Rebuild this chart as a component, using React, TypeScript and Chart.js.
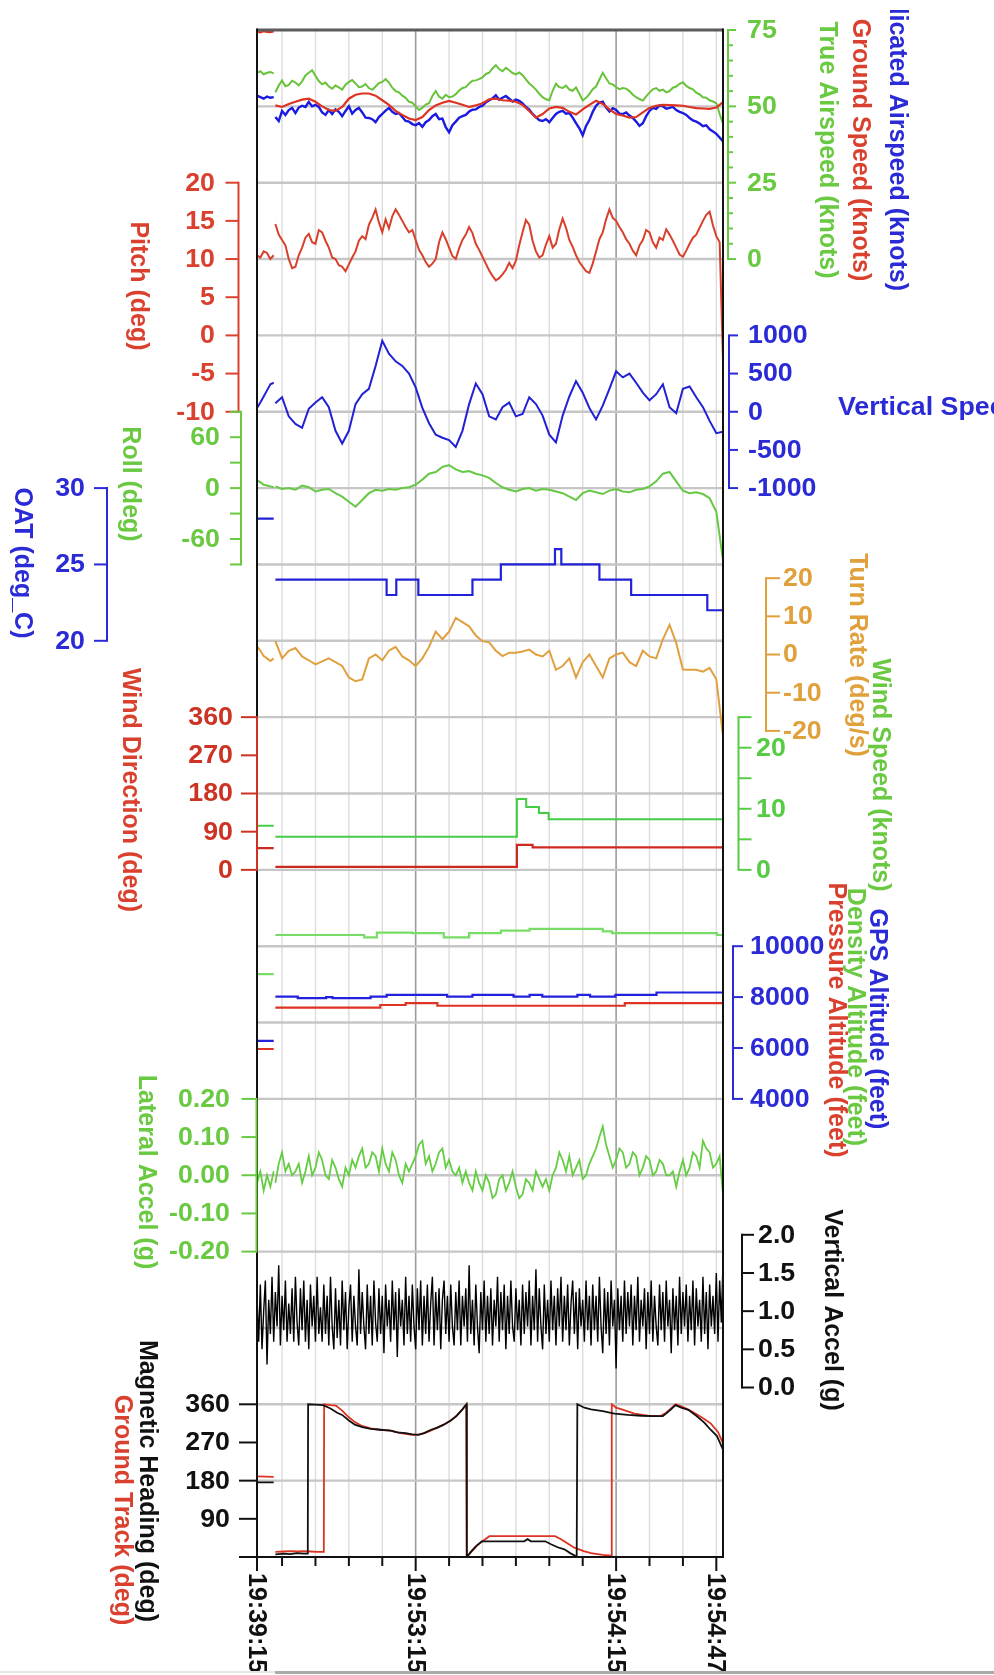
import React, { useEffect, useRef } from 'react';
import { Chart, registerables } from 'chart.js';
Chart.register(...registerables);

// ---------------- DATA ----------------
// x is a sample index (seconds); 0..5 = early 19:39:15 samples, 5.5.. = main segment
const earlyX = [0, 1, 2, 3, 4, 5];
const mainStart = 5.5;

const xTickValues = [0, 7.5, 17.5, 27.5, 37.5, 47.5, 57.5, 67.5, 77.5, 87.5, 97.5, 107.5, 117.5, 127.5, 137.5];
const xTickLabels = ['19:39:15', '', '', '', '', '19:53:15', '', '', '', '', '', '19:54:15', '', '', '19:54:47'];
const xMajorGrid = [47.5, 107.5];

// 1 s resolution series
const tasEarly = [61, 61.5, 60.5, 61, 61.2, 60.8];
const tas = [54.6, 56.8, 58.5, 56.6, 57, 58.4, 57.8, 56.9, 58.2, 60.1, 61, 61.8, 60, 58.3, 57.2, 57.8, 56.5, 55.8, 56.8, 56.2,
  55.5, 57.1, 58, 58.6, 57.5, 56.3, 56.5, 57.3, 56, 55.4, 56.5, 57.6, 58, 58.9, 57.8, 56.1, 55, 54.6, 53.5, 52.8,
  51.5, 51.2, 50, 48.8, 49.5, 50.6, 51, 53.4, 55, 53.2, 52.5, 53.8, 53, 53.2, 54, 55.2, 56, 56.3, 57.5, 58.4,
  58.5, 58.9, 59.5, 60.6, 61, 62.4, 63.5, 62.2, 61.5, 62.6, 61.8, 60.9, 60.5, 61.1, 60.2, 58.8, 57.5, 56.6, 55.5, 54.1,
  53, 52.3, 52, 55.1, 57.4, 56.3, 56, 56.8, 55.5, 55.1, 56.2, 54.1, 51.9, 52.8, 54, 55.6, 56.5, 58.8, 61, 59.2,
  57.5, 57.2, 56.3, 55.6, 56, 55.8, 55, 53.8, 53, 52.4, 51.9, 53.3, 54.5, 55.6, 56, 55.1, 55.5, 54.6, 55, 56.1,
  56.5, 57.4, 57.9, 56.7, 56, 55.6, 54.5, 53.9, 53, 52.8, 52, 51.6, 51, 47.5, 44.3];
const iasEarly = [53.5, 53, 52.5, 53.2, 52.8, 53];
const ias = [46.5, 45.2, 48.5, 47.2, 48.8, 49.5, 47.8, 49.6, 50.2, 49.8, 51.5, 50, 50.5, 49.8, 48, 47.2, 48.8, 47.5, 49, 48.2,
  46.8, 48.5, 50, 47.6, 48.8, 49.5, 48, 46.3, 46.2, 45.8, 44.8, 46.5, 47.5, 48.6, 49.5, 48.2, 47.5, 47.8, 46.5, 45.2,
  45, 44.2, 43.8, 44.5, 43.3, 44.8, 45.5, 46.8, 47.5, 45.8, 46, 43.2, 41.5, 43.8, 45, 46.3, 46.8, 47.2, 48.3, 48.9,
  49, 49.8, 50.2, 51.3, 52, 52.6, 53.6, 52.2, 52.8, 53.4, 52.5, 51.6, 52.2, 51.8, 51, 49.8, 48.9, 47.5, 46.5, 45.5,
  45.2, 45.8, 44.8, 46.2, 47.5, 48.2, 48.5, 47.6, 47.8, 46.3, 44.5, 42.8, 40.5, 43.6, 45.5, 48.2, 50.2, 51.2, 51.5, 49.6,
  48.3, 49.4, 48.8, 47.6, 47.5, 48, 47, 46.2, 45, 43.6, 44.5, 46.8, 48.5, 49.5, 49.2, 50.3, 50, 49.2, 49.5, 49.8,
  48.8, 48.2, 47.8, 47.2, 46.2, 45.4, 45, 44.4, 43.5, 43.8, 42.5, 41.8, 41, 39.8, 38.5];
const pitchEarly = [10.5, 10.2, 11, 10.8, 10, 10.5];
const pitch = [14.6, 13.2, 12.5, 11.8, 10, 8.8, 9, 10.5, 11.5, 12.8, 13.3, 12.2, 12, 13.8, 13.5, 12.4, 11.5, 10.2, 10, 9.2,
  9, 8.4, 9.3, 10.2, 11, 12.4, 13, 12.6, 14.5, 15.4, 16.5, 14.8, 13.5, 15.2, 14, 15.6, 16.5, 15.8, 15, 14.2,
  13.5, 13.8, 12.5, 11.2, 10.5, 9.6, 9, 9.4, 10, 12.2, 13.5, 12.6, 11.5, 10.4, 10, 11.4, 12.5, 13.2, 14.2, 13.4,
  12, 11.2, 10.3, 9.4, 8.5, 7.8, 7.2, 7.5, 8, 8.6, 9.5, 8.8, 9.8, 11.8, 13.5, 15.1, 14.5, 12.4, 11, 10.2,
  10.5, 11.9, 13, 11.5, 12, 13.9, 15.3, 14.1, 12.5, 11.6, 10.5, 9.6, 9, 8.4, 8.2, 9.4, 11, 12.6, 13.5, 15.2,
  16.5, 15.4, 15, 14.2, 13.5, 12.6, 12, 11.1, 10.5, 11.8, 12.5, 13.8, 13.5, 12.2, 11.5, 12.8, 12.5, 13.9, 13.2, 12.4,
  11.5, 10.6, 10.3, 11.1, 12, 12.8, 13.2, 14.1, 15, 15.8, 16.2, 14.4, 13, 12.2, -3.3];
const latEarly = [-0.02, 0.01, -0.04, 0, -0.03, 0.01];
const lat = [-0.02, 0.03, 0.06, 0.01, 0.03, 0.0, 0.01, 0.03, -0.02, 0.01, 0.05, 0.0, 0.02, 0.06, 0.04, 0.0, -0.01, 0.04, 0.02, -0.01,
  -0.03, 0.02, 0, 0.04, 0.02, 0.05, 0.07, 0.02, 0.03, 0.06, 0.05, 0.01, 0.07, 0.03, 0.01, 0.06, 0.04, 0.0, -0.02, 0.03,
  0.01, 0.03, 0.05, 0.08, 0.09, 0.03, 0.05, 0.01, 0.03, 0.06, 0.07, 0.02, 0.04, 0.01, 0, 0.02, -0.02, 0.01, -0.02, -0.04,
  0.01, -0.02, -0.04, 0.0, -0.02, -0.06, -0.05, -0.01, 0, -0.04, -0.02, 0.01, -0.03, -0.06, -0.05, -0.01, -0.02, -0.04, 0.01, -0.01,
  -0.03, -0.01, -0.04, 0.0, 0.02, 0.06, 0.04, 0.01, 0.05, 0.0, 0.02, 0.04, -0.01, 0.0, 0.03, 0.05, 0.07, 0.1, 0.128, 0.08,
  0.05, 0.02, 0.04, 0.07, 0.06, 0.02, 0.03, 0.06, 0.05, 0.0, 0.02, 0.05, 0.04, 0.0, 0.01, 0.04, 0.03, 0.0, 0, 0.01,
  -0.03, 0.01, 0.04, 0.0, 0.02, 0.06, 0.05, 0.02, 0.09, 0.07, 0.06, 0.02, 0.03, 0.05, -0.05];

// 2 s resolution series
const gsEarly = [74.5, 74.2, 74.6, 74.4, 74.3, 74.5];
const gs = [50.3, 49.8, 50.8, 51.5, 52.2, 52.5, 51.5, 50, 48.8, 48.5, 49.8, 52.5, 53.8, 54.2, 54.2, 53.5, 52, 50.5, 48.5, 47.2,
  46, 45.5, 46.5, 48.8, 50.3, 51.2, 51.8, 51.2, 50.5, 49.8, 50.3, 51, 52.3, 52.5, 52, 51.9, 51.5, 50.5, 48.5, 46.3,
  47.5, 49.3, 49.8, 49.5, 48.2, 47.3, 49, 50.5, 51.8, 50.8, 49, 47.5, 47, 46.3, 46.5, 48, 49.5, 50.2, 50.5, 50.4,
  50.3, 50.2, 49.8, 49.4, 49.3, 49.2, 49.6, 51.4];
const vsEarly = [50, 120, 200, 280, 360, 380];
const vs = [110, 190, -60, -160, -210, 40, 120, 190, 60, -250, -416, -250, 100, 230, 300, 600, 930, 760, 660, 600,
  500, 320, 50, -150, -300, -340, -370, -460, -250, 100, 370, 230, -60, -100, 60, 120, -60, -30, 190, 100,
  -50, -300, -400, -50, 200, 400, 250, 50, -100, 80, 300, 530, 450, 500, 380, 250, 150, 230, 360, 60,
  -20, 300, 330, 190, 60, -120, -280, -260];
const rollEarly = [9, 7, 4, 3, 2, 1];
const roll = [2, -1, 0, -2, 3, 1, -4, -2, -1, -6, -10, -16, -22, -14, -6, -2, -3, -1, -2, 0,
  1, 4, 10, 17, 19, 25, 27, 22, 19, 20, 17, 15, 12, 6, 1, -2, -4, -1, 0, -3,
  -1, -2, -4, -6, -10, -14, -6, -3, -5, -7, -3, -1, -4, -5, -2, -1, 2, 8, 17, 19,
  8, -3, -6, -5, -7, -12, -28, -85];
const turnEarly = [2.2, 1, -0.4, -1, -1.7, -1];
const turn = [3.5, -1, 1, 1.7, -0.5, -1.5, -2.6, -1.8, -1, -2, -3, -6, -7, -6.5, -1, 0, -1.5, 1, 2, -0.5,
  -1.5, -3, -1, 2, 6, 4, 6, 9.6, 8.5, 7.4, 5, 3.5, 3.2, 1, -0.4, 0.5, 0.5, 0.8, 1.3, 0,
  -0.5, 1, -4, -3, -1, -6, -2, 0, -3, -6, -1, 0, 0.5, -2, -3, 1, -0.5, -1, 4, 7.8,
  3, -3.9, -4, -4, -4.5, -3.5, -6.5, -21.3];

// vertical accel: 0.5 s samples from x = 0
const vaccStep = 0.5;
const vacc = [
  1.2, 0.6, 1.35, 0.5, 1.0, 1.4, 0.3, 1.15, 0.7, 1.45, 0.6, 1.25, 0.8, 1.6, 0.55, 1.2, 0.75, 1.4, 0.6, 1.1,
  0.7, 1.3, 0.6, 1.45, 0.85, 0.55, 1.3, 0.75, 1.4, 0.6, 1.15, 0.5, 1.35, 0.8, 1.2, 0.6, 1.45, 0.7, 1.05, 0.6,
  1.35, 0.7, 1.2, 0.55, 1.45, 0.8, 0.5, 1.3, 0.65, 1.15, 0.55, 1.4, 0.75, 1.25, 0.5, 1.05, 1.35, 0.6, 1.2, 0.8,
  0.55, 1.55, 0.7, 1.25, 0.8, 0.5, 1.35, 0.7, 1.2, 0.55, 1.4, 0.85, 0.6, 1.3, 0.7, 1.2, 0.45, 1.35, 0.8, 1.15,
  0.6, 1.4, 0.75, 1.25, 0.4, 1.3, 0.8, 1.15, 0.55, 1.45, 0.7, 1.2, 0.6, 1.35, 0.8, 0.5, 1.3, 0.75, 1.4, 0.55,
  1.2, 0.7, 1.35, 0.6, 1.1, 1.45, 0.55, 1.25, 0.75, 1.3, 0.5, 1.15, 1.4, 0.7, 1.2, 0.6, 1.35, 0.8, 0.55, 1.25,
  0.75, 1.4, 0.55, 1.2, 0.8, 1.3, 0.6, 1.6, 0.7, 1.15, 0.55, 1.35, 0.8, 0.45, 1.25, 0.75, 1.4, 0.6, 1.2, 0.7,
  1.3, 0.55, 1.15, 0.8, 1.45, 0.6, 1.25, 0.75, 1.35, 0.5, 1.2, 0.7, 1.4, 0.8, 0.6, 1.3, 0.75, 1.15, 0.55, 1.35,
  0.7, 1.25, 0.8, 1.4, 0.55, 1.2, 0.75, 1.55, 0.6, 1.3, 0.8, 0.5, 1.35, 0.7, 1.15, 0.6, 1.4, 0.75, 1.2, 0.55,
  1.3, 0.8, 1.45, 0.6, 1.2, 0.75, 1.35, 0.55, 1.1, 1.4, 0.7, 1.25, 0.5, 1.3, 0.8, 1.15, 0.6, 1.4, 0.75, 1.2,
  0.55, 1.35, 0.75, 1.2, 0.6, 1.45, 0.8, 0.45, 1.3, 0.7, 1.25, 0.55, 1.4, 0.8, 1.15, 0.25, 1.3, 0.75, 1.2, 0.6,
  1.4, 0.7, 1.25, 0.8, 1.35, 0.55, 1.2, 0.75, 1.45, 0.6, 1.15, 0.8, 1.3, 0.5, 1.25, 0.7, 1.4, 0.6, 1.2, 0.8,
  0.55, 1.35, 0.75, 1.25, 0.6, 1.4, 0.8, 1.15, 0.45, 1.3, 0.75, 1.2, 0.55, 1.45, 0.7, 1.25, 0.8, 1.35, 0.6, 1.2,
  0.75, 1.4, 0.55, 1.3, 0.8, 1.15, 0.6, 1.45, 0.7, 1.25, 0.5, 1.35, 0.8, 1.2, 0.7, 1.5, 0.6, 1.4, 0.85, 1.65];

// step series (value holds until next x)
const oatEarly = [28, 28];
const oatX = [5.5, 38.8, 41.7, 48.3, 64.5, 73, 89.2, 91.1, 102.5, 112, 134.8, 139.5];
const oatV = [24, 23, 24, 23, 24, 25, 26, 25, 24, 23, 22, 22];
const windDirEarly = [51, 51];
const windDirX = [5.5, 77.8, 82.5, 139.5];
const windDirV = [7, 59, 53, 53];
const windSpdEarly = [7.2, 7.2];
const windSpdX = [5.5, 77.8, 80.6, 84.4, 87.3, 139.5];
const windSpdV = [5.4, 11.6, 10.3, 9.3, 8.3, 8.3];
const densEarly = [8900, 8900];
const densX = [5.5, 32.1, 35.9, 46.4, 55.9, 63.5, 73, 81.6, 103.5, 106.3, 137.7, 139.5];
const densV = [10440, 10350, 10530, 10510, 10350, 10510, 10610, 10680, 10580, 10510, 10440, 10440];
const gpsEarly = [6280, 6280];
const gpsX = [5.5, 12.2, 20.7, 22.6, 34, 38.8, 56.9, 64.5, 76.8, 81.6, 85.4, 95.9, 99.7, 107.3, 119.6, 139.5];
const gpsV = [8020, 7960, 8000, 7960, 8020, 8090, 8020, 8090, 8020, 8090, 8020, 8090, 8020, 8090, 8180, 8180];
const presEarly = [5960, 5960];
const presX = [5.5, 36.9, 44.5, 54, 110.1, 139.5];
const presV = [7590, 7690, 7760, 7660, 7760, 7760];

const hdgEarly = [176, 176];
const hdgX = [5.5, 8, 10, 12, 14, 15.2, 15.3, 17.5, 19.8, 22, 24, 25.5, 27.5, 29.3, 31.5, 34, 36.9, 40, 42, 44.5, 46.5, 48.3,
  50, 52.1, 54, 55.9, 58, 59.7, 61.5, 62.7, 62.8, 64, 65.5, 67.3, 70, 75, 80, 81, 82, 86.3, 88, 90, 92, 94, 95.7, 95.9,
  98, 100, 103.5, 107, 111, 115, 118.7, 121.5, 123.5, 125.3, 127, 129.1, 131.5, 133.9, 135.8, 137.7, 139.5];
const hdgV = [6, 8, 7, 9, 8, 8, 360, 359, 358, 350, 340, 335, 322, 312, 306, 302, 300, 298, 294, 292, 289, 288,
  292, 300, 305, 312, 322, 332, 348, 360, 0, 12, 25, 37, 37, 37, 37, 42, 37, 37, 30, 23, 18, 8, 1, 360,
  352, 348, 344, 338, 335, 333, 332, 332, 345, 358, 352, 347, 333, 317, 300, 285, 253];
const trkEarly = [190, 189];
const trkX = [5.5, 8, 10, 12, 14, 16, 18, 20, 20.1, 22, 23.6, 25.5, 27.4, 29.3, 31.2, 34, 36.9, 40, 43, 46.4, 48.5, 50.2,
  52, 54, 55.9, 58, 59.7, 61.5, 62.7, 62.8, 64.5, 66, 68, 69.6, 75, 80, 85, 89.2, 91, 93, 95, 97.8, 100, 103.5, 106.1, 106.2,
  107.5, 109.2, 113, 117, 120.6, 122.5, 125.3, 127, 129, 132, 134, 135.8, 138, 139.5];
const trkV = [12, 13, 14, 13, 14, 13, 12, 12, 360, 358, 357, 345, 330, 318, 310, 303, 300, 298, 292, 288, 289, 292,
  298, 305, 312, 322, 333, 348, 360, 0, 15, 28, 40, 49, 49, 49, 49, 49, 42, 32, 22, 14, 9, 5, 3, 360,
  352, 348, 338, 333, 332, 340, 360, 355, 348, 335, 325, 315, 295, 268];

// axis tick values / labels
const spdTicks = [75, 50, 25, 0];
const spdMinor = [70, 65, 60, 55, 45, 40, 35, 30, 20, 15, 10, 5];
const pitchTicks = [20, 15, 10, 5, 0, -5, -10];
const vsTicks = [1000, 500, 0, -500, -1000];
const rollTicks = [90, 60, 30, 0, -30, -60, -90];
const rollLabels = [60, 0, -60];
const oatTicks = [30, 25, 20];
const turnTicks = [20, 10, 0, -10, -20];
const windDirTicks = [360, 270, 180, 90, 0];
const windSpdTicks = [25, 20, 15, 10, 5, 0];
const windSpdLabels = [20, 10, 0];
const altTicks = [10000, 8000, 6000, 4000];
const latTicks = [0.2, 0.1, 0, -0.1, -0.2];
const vaccTicks = [2, 1.5, 1, 0.5, 0];
const hdgTicks = [360, 270, 180, 90, 0];
const hdgLabels = [360, 270, 180, 90];

// ---------------- STYLE / LAYOUT ----------------
const C = {
  blueT: '#2a2ad6', redT: '#d9412e', greenT: '#69c941', orangeT: '#e0a03c', black: '#111111',
};
const FONT = "bold 25px 'Liberation Sans', Arial, Helvetica, sans-serif";
const SX = 1.07; // horizontal stretch of horizontal text
const PAD = { left: 257, top: 30, right: 271, bottom: 118 };

function band(vTop: number, gTop: number, vBot: number, gBot: number) {
  const per = (vBot - vTop) / (gBot - gTop);
  return { min: vTop + (20 - gTop) * per, max: vTop - gTop * per };
}

const AXES: any[] = [
  { id: 'spd', side: 'right', x: 728, color: '#69c941', r: band(75, 0, 0, 3), ticks: spdTicks, labels: spdTicks, minor: spdMinor, tick: 8, lx: 747, dec: 0 },
  { id: 'pitch', side: 'left', x: 238.5, color: C.redT, r: band(20, 2, -10, 5), ticks: pitchTicks, labels: pitchTicks, tick: 13, lx: 215, dec: 0 },
  { id: 'vs', side: 'right', x: 729, color: C.blueT, r: band(1000, 4, -1000, 6), ticks: vsTicks, labels: vsTicks, tick: 9, lx: 748, dec: 0 },
  { id: 'roll', side: 'left', x: 241, color: C.greenT, r: band(90, 5, -90, 7), ticks: rollTicks, labels: rollLabels, tick: 11, lx: 220, dec: 0 },
  { id: 'oat', side: 'left', x: 107, color: C.blueT, r: band(30, 6, 20, 8), ticks: oatTicks, labels: oatTicks, tick: 13, lx: 85, dec: 0 },
  { id: 'turn', side: 'right', x: 766, color: C.orangeT, r: band(20, 7.18, -20, 9.18), ticks: turnTicks, labels: turnTicks, tick: 14, lx: 783, dec: 0 },
  { id: 'wdir', side: 'left', x: 257, color: '#cc3322', r: band(360, 9, 0, 11), ticks: windDirTicks, labels: windDirTicks, tick: 16, lx: 233, dec: 0 },
  { id: 'wspd', side: 'right', x: 738.5, color: '#55cc44', r: band(25, 9, 0, 11), ticks: windSpdTicks, labels: windSpdLabels, tick: 13, lx: 756, dec: 0 },
  { id: 'alt', side: 'right', x: 733, color: C.blueT, r: band(10000, 12, 4000, 14), ticks: altTicks, labels: altTicks, tick: 10, lx: 750, dec: 0 },
  { id: 'lat', side: 'left', x: 256.5, color: C.greenT, r: band(0.2, 14, -0.2, 16), ticks: latTicks, labels: latTicks, tick: 15, lx: 230, dec: 2 },
  { id: 'vacc', side: 'right', x: 742, color: C.black, r: band(2, 15.78, 0, 17.78), ticks: vaccTicks, labels: vaccTicks, tick: 12, lx: 758, dec: 1 },
  { id: 'hdg', side: 'left', x: 257, color: C.black, r: band(360, 18, 0, 20), ticks: hdgTicks, labels: hdgLabels, tick: 18, lx: 230, dec: 0 },
];

const TITLES = [
  { t: 'Indicated Airspeed (knots)', c: C.blueT, x: 897, y: 134, clip: 10 },
  { t: 'Ground Speed (knots)', c: C.redT, x: 860, y: 150 },
  { t: 'True Airspeed (knots)', c: C.greenT, x: 827, y: 150 },
  { t: 'Pitch (deg)', c: C.redT, x: 138, y: 286 },
  { t: 'Roll (deg)', c: C.greenT, x: 130, y: 484 },
  { t: 'OAT (deg_C)', c: C.blueT, x: 22, y: 563 },
  { t: 'Turn Rate (deg/s)', c: C.orangeT, x: 857, y: 655 },
  { t: 'Wind Speed (knots)', c: C.greenT, x: 880, y: 775 },
  { t: 'Wind Direction (deg)', c: C.redT, x: 130, y: 790 },
  { t: 'GPS Altitude (feet)', c: C.blueT, x: 877, y: 1019 },
  { t: 'Density Altitude (feet)', c: C.greenT, x: 855, y: 1017 },
  { t: 'Pressure Altitude (feet)', c: C.redT, x: 836, y: 1020 },
  { t: 'Lateral Accel (g)', c: C.greenT, x: 146, y: 1172 },
  { t: 'Vertical Accel (g)', c: C.black, x: 832, y: 1310 },
  { t: 'Magnetic Heading (deg)', c: C.black, x: 147, y: 1481 },
  { t: 'Ground Track (deg)', c: C.redT, x: 122, y: 1510 },
];

// ---------------- builders ----------------
function uniform(early: number[], vals: number[], step: number) {
  const pts: any[] = early.map((v, i) => ({ x: earlyX[i], y: v }));
  pts.push({ x: 5.25, y: null });
  vals.forEach((v, i) => pts.push({ x: mainStart + i * step, y: v }));
  return pts;
}
function explicit(early: number[], xs: number[], vs: number[]) {
  const pts: any[] = [{ x: 0, y: early[0] }, { x: 5, y: early[1] }, { x: 5.25, y: null }];
  xs.forEach((x, i) => pts.push({ x, y: vs[i] }));
  return pts;
}
function ds(data: any[], axis: string, color: string, width = 2, stepped: any = false) {
  return { data, yAxisID: axis, borderColor: color, borderWidth: width, pointRadius: 0, tension: 0, spanGaps: false, stepped, fill: false };
}

function seg(ctx: CanvasRenderingContext2D, x1: number, y1: number, x2: number, y2: number) {
  ctx.beginPath(); ctx.moveTo(x1, y1); ctx.lineTo(x2, y2); ctx.stroke();
}
function htext(ctx: CanvasRenderingContext2D, s: string, x: number, y: number, align: CanvasTextAlign) {
  ctx.save(); ctx.translate(x, y); ctx.scale(SX, 1);
  ctx.textAlign = align; ctx.textBaseline = 'middle'; ctx.fillText(s, 0, 0); ctx.restore();
}

const overlay = {
  id: 'overlay',
  beforeDatasetsDraw(chart: any) {
    const { ctx, chartArea: a, scales } = chart;
    const xs = scales.x; const gs = scales.grid;
    ctx.save();
    xTickValues.forEach((v) => {
      if (v === 0) return;
      const px = xs.getPixelForValue(v);
      const major = xMajorGrid.includes(v);
      ctx.strokeStyle = major ? '#9c9c9c' : '#dcdcdc';
      ctx.lineWidth = major ? 1.6 : 1.4;
      seg(ctx, px, a.top, px, a.bottom);
    });
    ctx.strokeStyle = '#c6c6c6'; ctx.lineWidth = 2.4;
    for (let g = 1; g < 20; g++) {
      const y = gs.getPixelForValue(g);
      seg(ctx, a.left, y, a.right, y);
    }
    ctx.restore();
  },
  afterDatasetsDraw(chart: any) {
    const { ctx, chartArea: a, scales } = chart;
    ctx.save();
    // frame
    ctx.strokeStyle = '#5c5c5c'; ctx.lineWidth = 3;
    seg(ctx, a.left, a.top, a.right, a.top);
    ctx.strokeStyle = '#111'; ctx.lineWidth = 2;
    seg(ctx, a.left, a.top - 1.5, a.left, a.bottom);
    seg(ctx, a.right, a.top - 1.5, a.right, a.bottom);
    seg(ctx, a.left - 1, a.bottom, a.right + 1, a.bottom);
    // time axis
    const xs = scales.x;
    ctx.font = FONT; ctx.fillStyle = '#111';
    xTickValues.forEach((v, i) => {
      const px = xs.getPixelForValue(v);
      const lab = xTickLabels[i];
      seg(ctx, px, a.bottom, px, a.bottom + (lab ? 14 : 9));
      if (lab) {
        ctx.save(); ctx.translate(px, a.bottom + 16); ctx.rotate(Math.PI / 2);
        ctx.textAlign = 'left'; ctx.textBaseline = 'middle';
        ctx.fillText(lab, 0, 1); ctx.restore();
      }
    });
    // y axes
    AXES.forEach((ax) => {
      const s = scales[ax.id];
      const dir = ax.side === 'left' ? -1 : 1;
      ctx.strokeStyle = ax.color; ctx.fillStyle = ax.color; ctx.lineWidth = 2;
      const y1 = s.getPixelForValue(ax.ticks[0]);
      const y2 = s.getPixelForValue(ax.ticks[ax.ticks.length - 1]);
      seg(ctx, ax.x, y1 - 1, ax.x, y2 + 1);
      ax.ticks.forEach((v: number) => { const y = s.getPixelForValue(v); seg(ctx, ax.x, y, ax.x + dir * ax.tick, y); });
      (ax.minor || []).forEach((v: number) => { const y = s.getPixelForValue(v); seg(ctx, ax.x, y, ax.x + dir * 5, y); });
      ax.labels.forEach((v: number) => htext(ctx, v.toFixed(ax.dec), ax.lx, s.getPixelForValue(v) + 1, dir < 0 ? 'right' : 'left'));
    });
    // titles
    TITLES.forEach((t: any) => {
      ctx.save();
      if (t.clip) { ctx.beginPath(); ctx.rect(0, t.clip, 994, 1675); ctx.clip(); }
      ctx.translate(t.x, t.y); ctx.rotate(Math.PI / 2);
      ctx.fillStyle = t.c; ctx.textAlign = 'center'; ctx.textBaseline = 'middle';
      ctx.fillText(t.t, 0, 0); ctx.restore();
    });
    ctx.fillStyle = C.blueT;
    htext(ctx, 'Vertical Speed (ft/min)', 838, 408, 'left');
    // bottom page rule
    ctx.fillStyle = '#e6e6e6'; ctx.fillRect(0, 1671, 275, 2);
    ctx.fillStyle = '#ababab'; ctx.fillRect(275, 1671, 719, 3);
    ctx.restore();
  },
};

export default function App() {
  const ref = useRef<HTMLCanvasElement | null>(null);
  useEffect(() => {
    document.body.style.margin = '0';
    const canvas = ref.current; if (!canvas) return;
    const scales: any = {
      x: { type: 'linear', axis: 'x', position: 'bottom', min: 0, max: 139.5, display: false },
      grid: { type: 'linear', axis: 'y', position: 'left', min: 0, max: 20, reverse: true, display: false },
    };
    AXES.forEach((ax) => {
      scales[ax.id] = { type: 'linear', axis: 'y', position: ax.side, display: false, min: ax.r.min, max: ax.r.max };
    });
    const vaccPts = vacc.map((v, i) => ({ x: i * vaccStep, y: v }));
    const chart = new Chart(canvas, {
      type: 'line',
      data: {
        datasets: [
          ds(uniform(gsEarly, gs, 2), 'spd', '#dd3322', 2.2),
          ds(uniform(iasEarly, ias, 1), 'spd', '#1a1ae0', 2.4),
          ds(uniform(tasEarly, tas, 1), 'spd', '#68c23a', 2),
          ds(uniform(pitchEarly, pitch, 1), 'pitch', '#d8402c', 2),
          ds(uniform(vsEarly, vs, 2), 'vs', '#2020d4', 2),
          ds(uniform(rollEarly, roll, 2), 'roll', '#66c844', 2),
          ds(explicit(oatEarly, oatX, oatV), 'oat', '#2222d8', 2.2, true),
          ds(uniform(turnEarly, turn, 2), 'turn', '#e0a040', 2),
          ds(explicit(windSpdEarly, windSpdX, windSpdV), 'wspd', '#44cc44', 2, true),
          ds(explicit(windDirEarly, windDirX, windDirV), 'wdir', '#cc2a20', 2.2, true),
          ds(explicit(gpsEarly, gpsX, gpsV), 'alt', '#2222dd', 2.2, true),
          ds(explicit(presEarly, presX, presV), 'alt', '#dd3322', 2.2, true),
          ds(explicit(densEarly, densX, densV), 'alt', '#77dd66', 2.2, true),
          ds(uniform(latEarly, lat, 1), 'lat', '#66cc44', 1.8),
          ds(vaccPts, 'vacc', '#000000', 1.4),
          ds(explicit(hdgEarly, hdgX, hdgV), 'hdg', '#111111', 1.8),
          ds(explicit(trkEarly, trkX, trkV), 'hdg', '#dd3322', 1.8),
        ],
      },
      options: {
        responsive: false,
        animation: false,
        devicePixelRatio: 1,
        events: [],
        layout: { padding: PAD },
        plugins: { legend: { display: false }, tooltip: { enabled: false } },
        scales,
      } as any,
      plugins: [overlay],
    });
    return () => chart.destroy();
  }, []);
  return (
    <div style={{ position: 'absolute', left: 0, top: 0, width: 994, height: 1675, background: '#fff' }}>
      <canvas ref={ref} width={994} height={1675} style={{ display: 'block', width: 994, height: 1675 }} />
    </div>
  );
}
